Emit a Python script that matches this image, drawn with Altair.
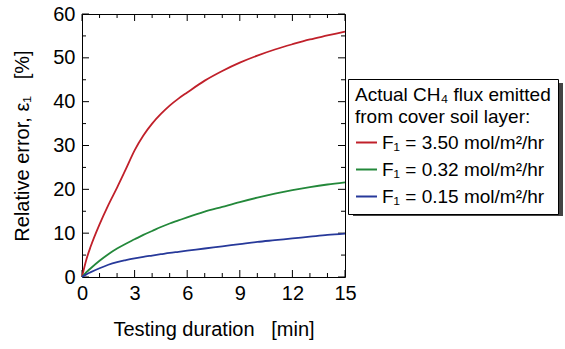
import altair as alt
import pandas as pd

# ---- data ----
t = [0, 0.25, 0.5, 1, 1.5, 2, 2.5, 3, 3.5, 4, 4.5, 5, 5.5, 6, 7, 8, 9, 10, 11, 12, 13, 14, 15]
red = [0, 4.0, 7.0, 12.0, 16.4, 20.4, 24.6, 28.9, 32.3, 35.0, 37.2, 39.1, 40.7, 42.1, 44.8, 47.0, 48.9, 50.5, 51.9, 53.1, 54.2, 55.1, 56.0]
green = [0, 1.1, 2.0, 3.7, 5.2, 6.5, 7.6, 8.6, 9.6, 10.5, 11.4, 12.2, 12.9, 13.6, 14.9, 16.0, 17.1, 18.1, 19.0, 19.8, 20.5, 21.1, 21.6]
blue = [0, 0.6, 1.1, 2.0, 2.8, 3.4, 3.85, 4.25, 4.6, 4.9, 5.2, 5.5, 5.75, 6.0, 6.5, 7.0, 7.5, 8.0, 8.4, 8.8, 9.2, 9.6, 9.9]

series_names = ["F\u2081 = 3.50 mol/m\u00b2/hr", "F\u2081 = 0.32 mol/m\u00b2/hr", "F\u2081 = 0.15 mol/m\u00b2/hr"]
series_colors = ["#c0202a", "#23883a", "#27399a"]

x_major = [0, 3, 6, 9, 12, 15]
x_minor = [1, 2, 4, 5, 7, 8, 10, 11, 13, 14]
y_major = [0, 10, 20, 30, 40, 50, 60]
y_minor = [5, 15, 25, 35, 45, 55]

rows = []
for name, vals in zip(series_names, [red, green, blue]):
    for ti, v in zip(t, vals):
        rows.append({"t": ti, "e": v, "series": name})
df = pd.DataFrame(rows)

W, H = 263, 263
FONT = "Liberation Sans"
NB = "\u00a0"

xs = alt.Scale(domain=[0, 15], nice=False)
ys = alt.Scale(domain=[0, 60], nice=False)

lines = alt.Chart(df).mark_line(strokeWidth=1.8, interpolate="monotone").encode(
    x=alt.X("t:Q", scale=xs,
            axis=alt.Axis(values=x_major, title="Testing duration" + NB * 3 + "[min]", ticks=False,
                          domain=False, grid=False, labelPadding=6, titlePadding=16,
                          labelFlush=False)),
    y=alt.Y("e:Q", scale=ys,
            axis=alt.Axis(values=y_major, title="Relative error, \u03b5\u2081" + NB * 3 + "[%]", ticks=False,
                          domain=False, grid=False, labelPadding=7, titlePadding=20,
                          labelFlush=False)),
    color=alt.Color("series:N",
                    scale=alt.Scale(domain=series_names, range=series_colors),
                    legend=alt.Legend(title=["Actual CH\u2084 flux emitted", "from cover soil layer:"],
                                      orient="none", legendX=266, legendY=65,
                                      symbolType="stroke", symbolSize=440, symbolStrokeWidth=2,
                                      labelLimit=300, titleLimit=300, padding=7, rowPadding=5,
                                      fillColor="white", strokeColor="black")),
)

def xticks(vals, length, top):
    d = pd.DataFrame({"v": vals})
    if top:
        yy, yy2 = 0, length
    else:
        yy, yy2 = H, H - length
    return alt.Chart(d).mark_rule(color="black", strokeWidth=1).encode(
        x=alt.X("v:Q", scale=xs), y=alt.value(yy), y2=alt.value(yy2))

def yticks(vals, length, right):
    d = pd.DataFrame({"v": vals})
    if right:
        xx, xx2 = W, W - length
    else:
        xx, xx2 = 0, length
    return alt.Chart(d).mark_rule(color="black", strokeWidth=1).encode(
        y=alt.Y("v:Q", scale=ys), x=alt.value(xx), x2=alt.value(xx2))

shadow = alt.Chart(pd.DataFrame({"a": [0]})).mark_rect(color="#444444").encode(
    x=alt.value(271), x2=alt.value(481), y=alt.value(69), y2=alt.value(202))

chart = alt.layer(
    shadow,
    xticks(x_major, 7, False), xticks(x_minor, 4, False),
    xticks(x_major, 7, True), xticks(x_minor, 4, True),
    yticks(y_major, 7, False), yticks(y_minor, 4, False),
    yticks(y_major, 7, True), yticks(y_minor, 4, True),
    lines,
).properties(
    width=W, height=H,
    autosize=alt.AutoSizeParams(type="none"),
    padding={"left": 82, "top": 14, "right": 220, "bottom": 72},
).configure_view(stroke="black", strokeWidth=1).configure_axis(
    labelFont=FONT, titleFont=FONT, labelFontSize=20, titleFontSize=20,
    labelColor="black", titleColor="black", titleFontWeight="normal",
).configure_legend(
    titleFont=FONT, labelFont=FONT, titleFontSize=19, labelFontSize=19,
    titleColor="black", labelColor="black", titleFontWeight="normal", titleLineHeight=22,
    titlePadding=4,
)

chart.save("out.html", embed_options={"renderer": "svg", "actions": False})
